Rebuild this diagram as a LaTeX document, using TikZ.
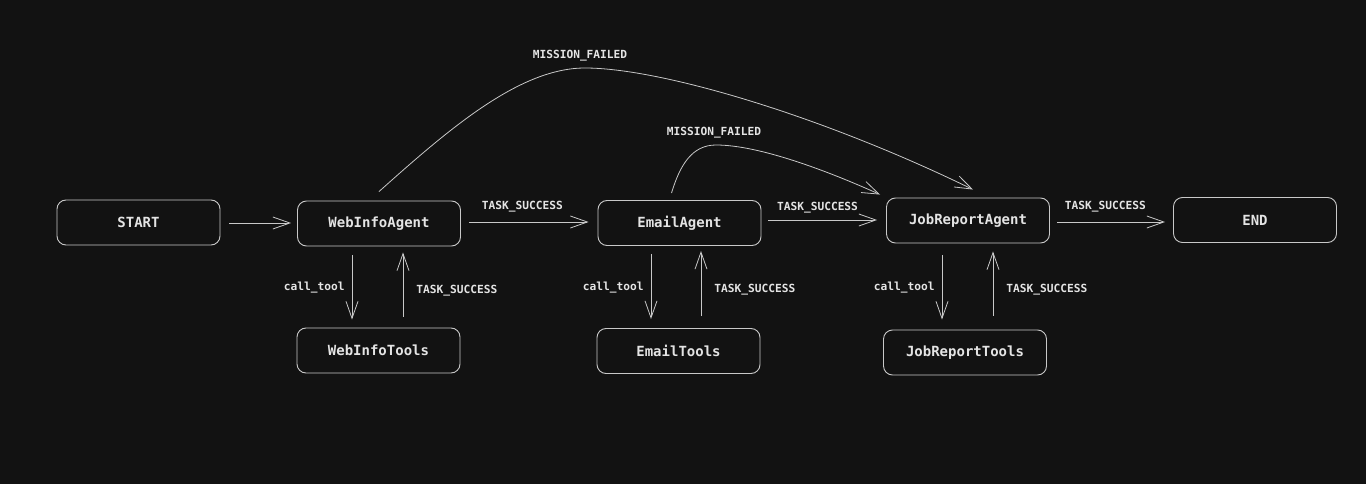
\documentclass[tikz,border=0pt]{standalone}
\usepackage{fontspec}
\setmonofont{DejaVu Sans Mono}
\usetikzlibrary{arrows.meta}
\definecolor{bg}{HTML}{121212}
\definecolor{ln}{HTML}{C8C8C8}
\definecolor{tx}{HTML}{E4E4E4}
\tikzset{
  box/.style={draw=ln, line width=0.9pt, rounded corners=9pt, minimum width=163pt, minimum height=45pt, inner sep=0pt, text=tx, font=\ttfamily\bfseries\fontsize{14}{16}\selectfont},
  lbl/.style={text=tx, inner sep=1pt, font=\ttfamily\bfseries\fontsize{11.2}{13}\selectfont},
  conn/.style={draw=ln, line width=0.8pt, -{Straight Barb[length=17pt,width=12pt,line width=0.8pt]}},
}
\begin{document}
\begin{tikzpicture}[x=1pt,y=-1pt]
\useasboundingbox (0,0) rectangle (1366,484);
\fill[bg] (0,0) rectangle (1366,484);

\node[box] (start) at (138.5,222.5) {START};
\node[box] (wa) at (379,223.5) {WebInfoAgent};
\node[box] (wt) at (378.5,350.5) {WebInfoTools};
\node[box] (ea) at (679.5,223) {EmailAgent};
\node[box] (et) at (678.5,351) {EmailTools};
\node[box] (ja) at (968,220.5) {JobReportAgent};
\node[box] (jt) at (965,352.5) {JobReportTools};
\node[box] (end) at (1255,220) {END};

% horizontal
\draw[conn, shorten <=9pt, shorten >=6pt] (start.east |- 0,223) -- (wa.west |- 0,223);
\draw[conn, shorten <=8pt, shorten >=9pt] (wa.east |- 0,222) -- node[lbl, above=8pt, pos=0.45] (l1) {TASK\_SUCCESS} (ea.west |- 0,222);
\draw[conn, shorten <=7pt, shorten >=9pt] (ea.east |- 0,220) -- node[lbl, above=5pt, pos=0.45] (l2) {TASK\_SUCCESS} (ja.west |- 0,220);
\draw[conn, shorten <=7pt, shorten >=8pt] (ja.east |- 0,222) -- node[lbl, above=8pt, pos=0.45] (l3) {TASK\_SUCCESS} (end.west |- 0,222);

% vertical pairs
\draw[conn, shorten <=9pt, shorten >=8pt] (wa.south -| 352,0) -- node[lbl, left=6pt, yshift=-1pt] (l4) {call\_tool} (wt.north -| 352,0);
\draw[conn, shorten <=11pt, shorten >=6pt] (wt.north -| 403,0) -- node[lbl, right=12pt, yshift=-4pt] (l5) {TASK\_SUCCESS} (wa.south -| 403,0);
\draw[conn, shorten <=8pt, shorten >=9pt] (ea.south -| 651,0) -- node[lbl, left=6pt, yshift=-1pt] (l6) {call\_tool} (et.north -| 651,0);
\draw[conn, shorten <=12pt, shorten >=5pt] (et.north -| 701,0) -- node[lbl, right=12pt, yshift=-3pt] (l7) {TASK\_SUCCESS} (ea.south -| 701,0);
\draw[conn, shorten <=12pt, shorten >=10pt] (ja.south -| 942,0) -- node[lbl, left=6pt, yshift=-1pt] (l8) {call\_tool} (jt.north -| 942,0);
\draw[conn, shorten <=14pt, shorten >=8pt] (jt.north -| 993,0) -- node[lbl, right=12pt, yshift=-3pt] (l9) {TASK\_SUCCESS} (ja.south -| 993,0);

% mission failed curves
\coordinate (bigpk) at (585,68);
\draw[conn] ([yshift=9pt]wa.north) .. controls (450,128) and (520,68) .. (bigpk) .. controls (660,68) and (820,115) .. ([xshift=5pt,yshift=8pt]ja.north);
\node[lbl] (mf1) at (580,56) {MISSION\_FAILED};
\coordinate (smpk) at (716,145);
\draw[conn] ([xshift=-8pt,yshift=7pt]ea.north) .. controls (680,165) and (692,145) .. (smpk) .. controls (760,145) and (830,172) .. ([xshift=-6pt,yshift=3pt]ja.north west);
\node[lbl] (mf2) at (714,133) {MISSION\_FAILED};
\end{tikzpicture}
\end{document}
